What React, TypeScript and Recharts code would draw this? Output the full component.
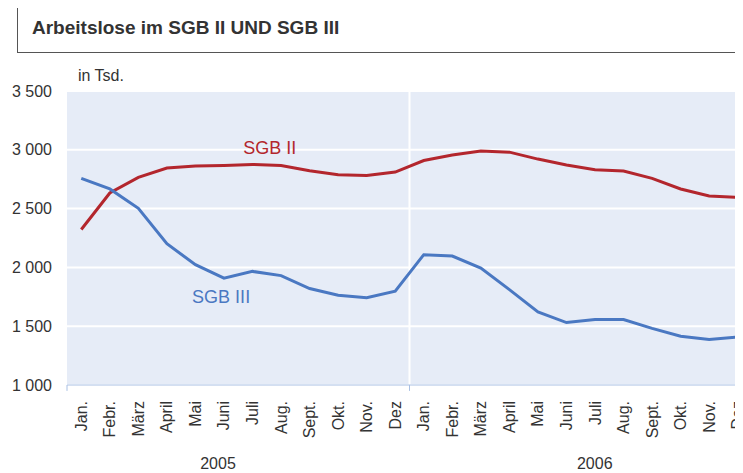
import { LineChart, Line, XAxis, YAxis, CartesianGrid, ReferenceLine, ReferenceDot } from 'recharts';

const MONTHS = ['Jan.', 'Febr.', 'März', 'April', 'Mai', 'Juni', 'Juli', 'Aug.', 'Sept.', 'Okt.', 'Nov.', 'Dez'];
const YEARS = ['2005', '2006'];
const YEAR_TICKS = [5.07, 17.72];

// in Tsd., Jan. 2005 bis Dez. 2006
const SGB2 = [
  2322, 2633, 2765, 2845, 2862, 2867, 2876, 2867, 2822, 2788, 2782, 2811,
  2909, 2955, 2989, 2980, 2921, 2870, 2830, 2819, 2757, 2667, 2607, 2596,
];
const SGB3 = [
  2757, 2667, 2503, 2201, 2023, 1909, 1966, 1930, 1820, 1763, 1743, 1797,
  2108, 2096, 1994, 1811, 1621, 1531, 1557, 1557, 1481, 1415, 1387, 1409,
];
const Y_TICKS = [1000, 1500, 2000, 2500, 3000, 3500];

const data = SGB2.map((v, i) => ({ i, sgb2: v, sgb3: SGB3[i] }));

const FONT = '"Liberation Sans", Arial, sans-serif';
const TEXT = '#333';
const RED = '#B3262D';
const BLUE = '#4A78C2';
const AXIS = '#A9C0E4';

const fmt = (v: number) => `${Math.floor(v / 1000)} ${String(v % 1000).padStart(3, '0')}`;

const MonthTick = ({ x, y, payload }: any) => (
  <text
    transform={`translate(${x + 5.5},${y + 8}) rotate(-90)`}
    textAnchor="end"
    fontSize={16}
    fill={TEXT}
    fontFamily={FONT}
  >
    {MONTHS[payload.value % 12]}
  </text>
);

export default function App() {
  return (
    <div style={{ position: 'relative', width: 735, height: 465, overflow: 'hidden', fontFamily: FONT }}>
      <div
        style={{
          position: 'absolute',
          left: 9,
          top: 0,
          width: 740,
          height: 45,
          borderLeft: '1px solid #555',
          borderBottom: '1px solid #555',
          boxSizing: 'border-box',
          paddingLeft: 14,
          paddingTop: 9,
          fontSize: 19,
          lineHeight: '22px',
          fontWeight: 'bold',
          color: TEXT,
        }}
      >
        Arbeitslose im SGB II UND SGB III
      </div>
      <div style={{ position: 'absolute', left: 70, top: 59, fontSize: 16, lineHeight: '18px', color: TEXT }}>
        in Tsd.
      </div>
      <LineChart width={760} height={465} data={data} margin={{ top: 83, right: 16, bottom: 6, left: 0 }}>
        <CartesianGrid vertical={false} stroke="#fff" strokeWidth={2} fill="#E6ECF7" fillOpacity={1} />
        <XAxis
          dataKey="i"
          type="number"
          domain={[-0.5, 23.5]}
          ticks={data.map((d) => d.i)}
          interval={0}
          tick={<MonthTick />}
          tickLine={false}
          axisLine={{ stroke: AXIS }}
          height={62}
        />
        <XAxis
          xAxisId="year"
          type="number"
          domain={[-0.5, 23.5]}
          ticks={YEAR_TICKS}
          interval={0}
          tickFormatter={(v: number) => YEARS[v < 12 ? 0 : 1]}
          tick={{ fontSize: 16, fill: TEXT, fontFamily: FONT }}
          tickLine={false}
          axisLine={false}
          tickMargin={5}
          height={20}
        />
        <YAxis
          type="number"
          domain={[1000, 3500]}
          ticks={Y_TICKS}
          interval={0}
          tickFormatter={fmt}
          tick={{ fontSize: 16, fill: TEXT, fontFamily: FONT }}
          tickLine={false}
          axisLine={false}
          tickMargin={9}
          width={59}
        />
        <ReferenceLine x={11.5} stroke="#fff" strokeWidth={2} />
        <ReferenceLine
          segment={[{ x: -0.5, y: 1000 }, { x: -0.5, y: 950 }]}
          ifOverflow="visible"
          stroke={AXIS}
        />
        <ReferenceLine
          segment={[{ x: 11.5, y: 1000 }, { x: 11.5, y: 950 }]}
          ifOverflow="visible"
          stroke={AXIS}
        />
        <Line dataKey="sgb2" stroke={RED} strokeWidth={3} dot={false} isAnimationActive={false} />
        <Line dataKey="sgb3" stroke={BLUE} strokeWidth={3} dot={false} isAnimationActive={false} />
        <ReferenceDot
          x={6.6}
          y={3017}
          r={0}
          label={{ value: 'SGB II', fill: RED, fontSize: 18, fontFamily: FONT, position: 'center' }}
        />
        <ReferenceDot
          x={4.9}
          y={1754}
          r={0}
          label={{ value: 'SGB III', fill: BLUE, fontSize: 18, fontFamily: FONT, position: 'center' }}
        />
      </LineChart>
    </div>
  );
}
